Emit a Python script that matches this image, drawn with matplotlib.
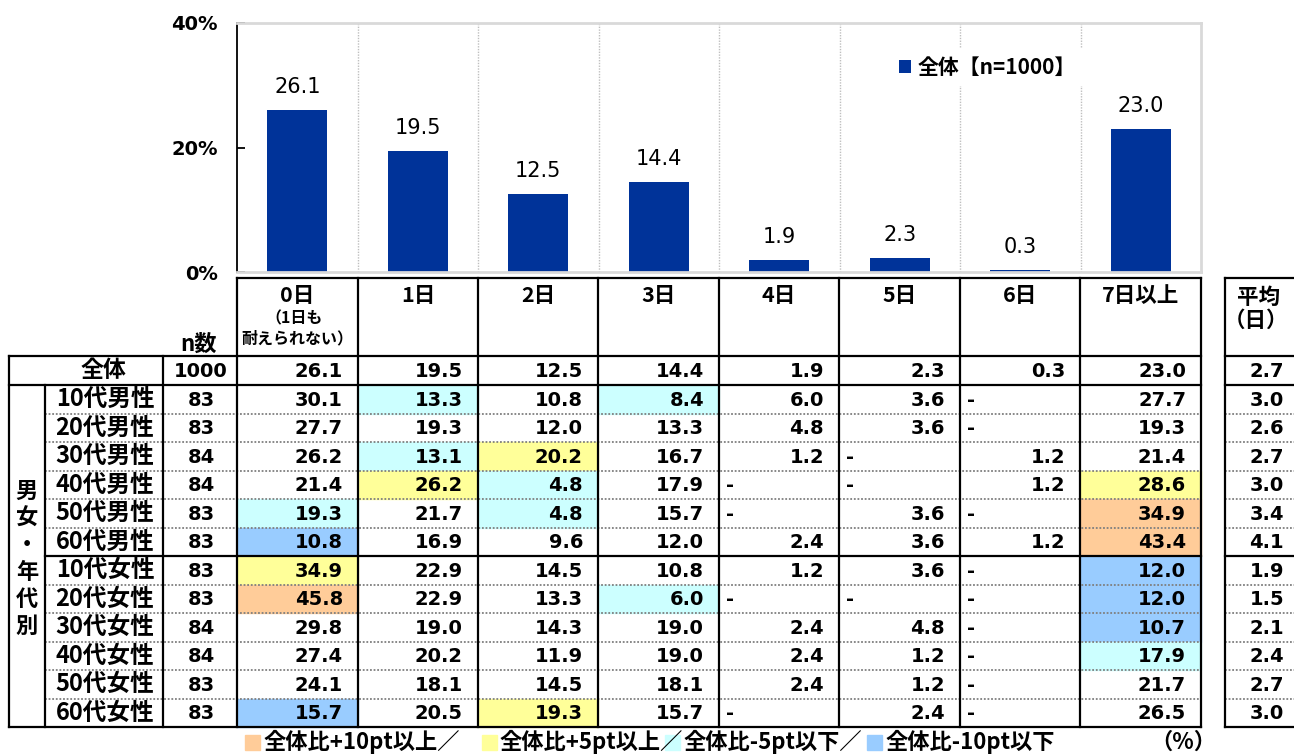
import numpy as np
import matplotlib
matplotlib.use("Agg")
import matplotlib.pyplot as plt
from matplotlib.patches import Rectangle
from matplotlib.font_manager import FontProperties

JP = ["Noto Sans CJK JP", "DejaVu Sans"]
NUM = ["DejaVu Sans"]
plt.rcParams["font.family"] = JP

# ---- data ----
days = ["0日", "1日", "2日", "3日", "4日", "5日", "6日", "7日以上"]
total = [26.1, 19.5, 12.5, 14.4, 1.9, 2.3, 0.3, 23.0]
total_n = 1000
total_avg = 2.7

groups = ["10代男性", "20代男性", "30代男性", "40代男性", "50代男性", "60代男性",
          "10代女性", "20代女性", "30代女性", "40代女性", "50代女性", "60代女性"]
group_n = [83, 83, 84, 84, 83, 83, 83, 83, 84, 84, 83, 83]
group_vals = [
    [30.1, 13.3, 10.8, 8.4, 6.0, 3.6, None, 27.7],
    [27.7, 19.3, 12.0, 13.3, 4.8, 3.6, None, 19.3],
    [26.2, 13.1, 20.2, 16.7, 1.2, None, 1.2, 21.4],
    [21.4, 26.2, 4.8, 17.9, None, None, 1.2, 28.6],
    [19.3, 21.7, 4.8, 15.7, None, 3.6, None, 34.9],
    [10.8, 16.9, 9.6, 12.0, 2.4, 3.6, 1.2, 43.4],
    [34.9, 22.9, 14.5, 10.8, 1.2, 3.6, None, 12.0],
    [45.8, 22.9, 13.3, 6.0, None, None, None, 12.0],
    [29.8, 19.0, 14.3, 19.0, 2.4, 4.8, None, 10.7],
    [27.4, 20.2, 11.9, 19.0, 2.4, 1.2, None, 17.9],
    [24.1, 18.1, 14.5, 18.1, 2.4, 1.2, None, 21.7],
    [15.7, 20.5, 19.3, 15.7, None, 2.4, None, 26.5],
]
group_avg = [3.0, 2.6, 2.7, 3.0, 3.4, 4.1, 1.9, 1.5, 2.1, 2.4, 2.7, 3.0]

legend_labels = ["全体比+10pt以上／", "全体比+5pt以上／", "全体比-5pt以下／", "全体比-10pt以下"]

# ---- style ----
BAR = "#003399"
C_UP10, C_UP5, C_DN5, C_DN10 = "#FFCC99", "#FFFF99", "#CCFFFF", "#99CCFF"
legend_colors = [C_UP10, C_UP5, C_DN5, C_DN10]


def cell_color(v, base):
    if v is None:
        return None
    d = v - base
    if d >= 10:
        return C_UP10
    if d >= 5:
        return C_UP5
    if d <= -10:
        return C_DN10
    if d <= -5:
        return C_DN5
    return None


W, H = 1294, 754
fig = plt.figure(figsize=(W / 100, H / 100), dpi=100)

# ---- bar chart ----
ax = fig.add_axes([237 / W, 1 - 272 / H, (1201 - 237) / W, (272 - 23) / H])
x = np.arange(len(days))
ax.bar(x, total, width=0.5, color=BAR, zorder=2, label="全体【n=1000】")
for xi, v in zip(x, total):
    ax.annotate(f"{v:.1f}", (xi, v), xytext=(0, 17), textcoords="offset pixels",
                ha="center", va="baseline", fontsize=15, family=NUM)
ax.set_xlim(-0.5, len(days) - 0.5)
ax.set_ylim(0, 40)
ax.set_xticks([])
ax.set_yticks([0, 20, 40])
ax.set_yticklabels([f"{t}%" for t in [0, 20, 40]])
ax.tick_params(axis="y", direction="in", length=6, width=1.3, pad=14)
for lab in ax.get_yticklabels():
    lab.set_fontfamily(NUM)
    lab.set_fontsize(14)
    lab.set_fontweight("bold")
for b in np.arange(0.5, len(days) - 0.5):
    ax.axvline(b, color="#BFBFBF", ls=(0, (1, 1)), lw=1, zorder=0)
ax.spines["left"].set_color("black")
ax.spines["left"].set_linewidth(1.3)
for s in ["top", "right", "bottom"]:
    ax.spines[s].set_color("#D9D9D9")
    ax.spines[s].set_linewidth(2)
leg = ax.legend(loc="center left", bbox_to_anchor=(880 / W, 1 - 67 / H),
                bbox_transform=fig.transFigure, frameon=True, fancybox=False,
                edgecolor="none", facecolor="white", framealpha=1,
                handlelength=0.6, handleheight=0.6, handletextpad=0.3,
                borderpad=0.4, prop=FontProperties(family=JP, weight="bold", size=15))

# ---- table ----
tb = fig.add_axes([0, 0, 1, 1])
tb.set_xlim(0, W)
tb.set_ylim(H, 0)
tb.axis("off")

col_x = [237, 358, 478, 598, 719, 839, 960, 1080, 1201]
avg_x0, avg_x1 = 1225, 1300
head_top, head_bot, tot_bot = 278, 356, 385
row_h = 28.5
rows_y = [tot_bot + i * row_h for i in range(len(groups) + 1)]
tab_bot = rows_y[-1]
lw = 1.6


def hline(y, x0, x1, dotted=False):
    if dotted:
        tb.plot([x0, x1], [y, y], color="#7F7F7F", lw=1.3, ls=(0, (1, 1)), zorder=3)
    else:
        tb.plot([x0, x1], [y, y], color="black", lw=lw, zorder=4, solid_capstyle="projecting")


def vline(x0, y0, y1):
    tb.plot([x0, x0], [y0, y1], color="black", lw=lw, zorder=4, solid_capstyle="projecting")


def num_cell(v, c0, c1, ymid, color):
    if color:
        tb.add_patch(Rectangle((c0, ymid - row_h / 2), c1 - c0, row_h, color=color, zorder=1))
    if v is None:
        tb.text(c0 + 7, ymid + 1, "-", ha="left", va="center", fontsize=14,
                family=NUM, fontweight="bold")
    else:
        tb.text(c1 - 15, ymid + 1, f"{v:.1f}", ha="right", va="center", fontsize=14,
                family=NUM, fontweight="bold")


# header
for i, d in enumerate(days):
    cx = (col_x[i] + col_x[i + 1]) / 2
    tb.text(cx, 296, d, ha="center", va="center", fontsize=15.5, fontweight="bold")
tb.text((col_x[0] + col_x[1]) / 2 - 3, 318, "（1日も", ha="center", va="center",
        fontsize=11.5, fontweight="bold")
tb.text((col_x[0] + col_x[1]) / 2, 338, "耐えられない）", ha="center", va="center",
        fontsize=11.5, fontweight="bold")
tb.text(1258, 297, "平均", ha="center", va="center", fontsize=15.5, fontweight="bold")
tb.text(1256, 320, "（日）", ha="center", va="center", fontsize=15.5, fontweight="bold")
tb.text(199, 344, "n数", ha="center", va="center", fontsize=16, fontweight="bold")

# total row
ym = (head_bot + tot_bot) / 2
tb.text(103, ym, "全体", ha="center", va="center", fontsize=16.5, fontweight="bold")
tb.text(201, ym + 1, str(total_n), ha="center", va="center", fontsize=14, family=NUM,
        fontweight="bold")
for j, v in enumerate(total):
    num_cell(v, col_x[j], col_x[j + 1], ym, None)
tb.text(1284, ym + 1, f"{total_avg:.1f}", ha="right", va="center", fontsize=14,
        family=NUM, fontweight="bold")

# group rows
for i, g in enumerate(groups):
    ym = rows_y[i] + row_h / 2
    tb.text(105, ym, g, ha="center", va="center", fontsize=17, fontweight="bold")
    tb.text(201, ym + 1, str(group_n[i]), ha="center", va="center", fontsize=14,
            family=NUM, fontweight="bold")
    for j, v in enumerate(group_vals[i]):
        num_cell(v, col_x[j], col_x[j + 1], ym, cell_color(v, total[j]))
    tb.text(1284, ym + 1, f"{group_avg[i]:.1f}", ha="right", va="center", fontsize=14,
            family=NUM, fontweight="bold")

# vertical group label
label_chars = list("男女・年代別")
gy = (rows_y[0] + tab_bot) / 2 + 3
for k, ch in enumerate(label_chars):
    tb.text(27, gy + (k - (len(label_chars) - 1) / 2) * 27, ch, ha="center",
            va="center", fontsize=16, fontweight="bold")

# grid lines
hline(head_top, col_x[0], col_x[-1])
hline(head_top, avg_x0, avg_x1)
for y in [head_bot, tot_bot, tab_bot]:
    hline(y, 9, col_x[-1])
    hline(y, avg_x0, avg_x1)
for i in range(1, len(groups)):
    solid = i == 6
    hline(rows_y[i], 45, col_x[-1], dotted=not solid)
    hline(rows_y[i], avg_x0, avg_x1, dotted=not solid)
for cx in col_x:
    vline(cx, head_top, tab_bot)
vline(avg_x0, head_top, tab_bot)
vline(163, head_bot, tab_bot)
vline(45, tot_bot, tab_bot)
vline(9, head_bot, tab_bot)

# bottom colour legend
leg_x = [245, 482, 665, 867]
for lx, lab, c in zip(leg_x, legend_labels, legend_colors):
    tb.add_patch(Rectangle((lx, 735), 15, 15, color=c))
    tb.text(lx + 18, 742, lab, ha="left", va="center", fontsize=16, fontweight="bold")
tb.text(1150, 742, "（%）", ha="left", va="center", fontsize=16, fontweight="bold")

fig.savefig("out.png", dpi=100)
